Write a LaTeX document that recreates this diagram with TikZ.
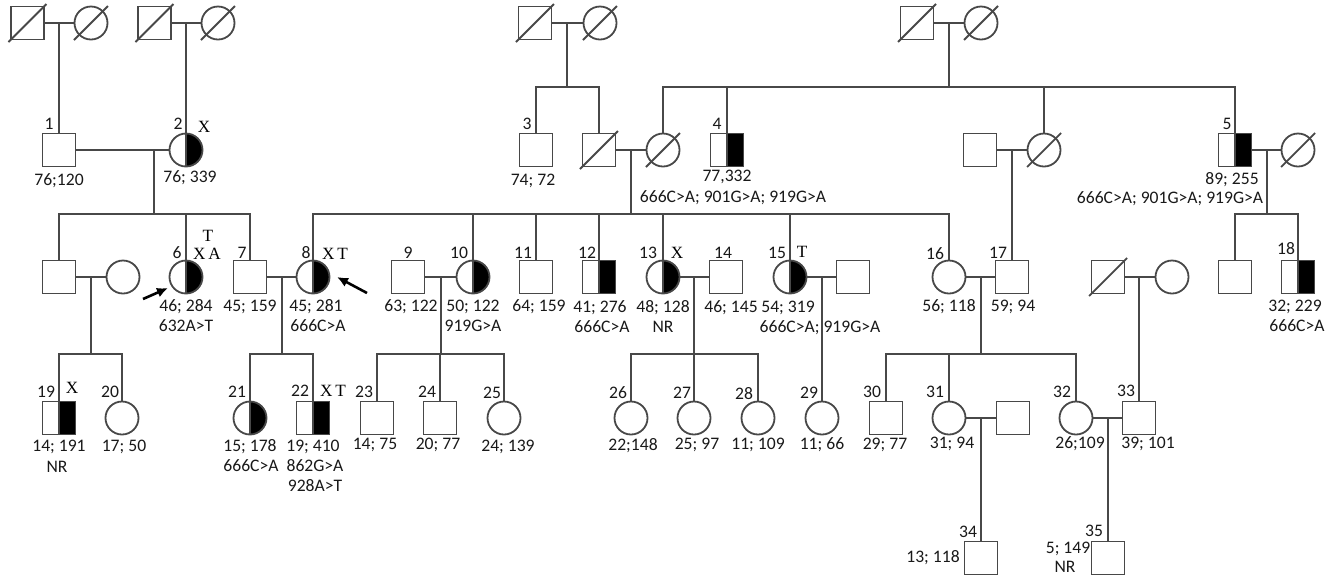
\documentclass[tikz,border=0pt]{standalone}
\usepackage{fontspec}
\setmainfont{Carlito}
\newfontfamily\serifx{Liberation Serif}
\usetikzlibrary{calc,arrows.meta}
\definecolor{lncol}{RGB}{72,72,72}
\definecolor{txcol}{RGB}{25,25,25}
\begin{document}
\begin{tikzpicture}[x=0.5pt,y=-0.5pt,
  sq/.style={draw=lncol,line width=0.9pt,rectangle,minimum size=16.5pt,inner sep=0pt,outer sep=0pt,fill=white},
  ci/.style={draw=lncol,line width=0.9pt,circle,minimum size=16.5pt,inner sep=0pt,outer sep=0pt,fill=white},
  half/.style={path picture={\fill[black] (path picture bounding box.north) rectangle (path picture bounding box.south east);
     \draw[lncol,line width=0.9pt] (path picture bounding box.north) -- (path picture bounding box.south);}},
  link/.style={draw=lncol,line width=0.9pt},
  lb/.style={font=\fontsize{8.8}{10}\selectfont,text=txcol,anchor=base,inner sep=0pt},
  sf/.style={font=\serifx\fontsize{8.6}{10}\selectfont,text=black,anchor=base,inner sep=0pt},
  arr/.style={draw=black,line width=1.3pt,-{Latex[length=5.5pt,width=5pt]}},
]
\fill[white] (0,0) rectangle (1333,575);
\useasboundingbox (0,0) rectangle (1333,575);

% Generation I
\node[sq] (a1) at (27.5,23) {};
\node[ci] (a2) at (91,23) {};
\node[sq] (b1) at (154.5,23) {};
\node[ci] (b2) at (218,23) {};
\node[sq] (c1) at (535,23) {};
\node[ci] (c2) at (600,23) {};
\node[sq] (d1) at (917,23) {};
\node[ci] (d2) at (981,23) {};

% Generation II
\node[sq] (p1) at (59,150) {};
\node[ci,half] (p2) at (186,150) {};
\node[sq] (p3) at (536,150) {};
\node[sq] (q1) at (599,150) {};
\node[ci] (q2) at (663,150) {};
\node[sq,half] (p4) at (727,150) {};
\node[sq] (r1) at (980,150) {};
\node[ci] (r2) at (1044,150) {};
\node[sq,half] (p5) at (1235,150) {};
\node[ci] (t2) at (1298,150) {};

% Generation III
\node[sq] (u1) at (59,277) {};
\node[ci] (u2) at (123,277) {};
\node[ci,half] (p6) at (186,277) {};
\node[sq] (p7) at (250,277) {};
\node[ci,half] (p8) at (313,277) {};
\node[sq] (p9) at (408,277) {};
\node[ci,half] (p10) at (473,277) {};
\node[sq] (p11) at (536,277) {};
\node[sq,half] (p12) at (599,277) {};
\node[ci,half] (p13) at (663,277) {};
\node[sq] (p14) at (726,277) {};
\node[ci,half] (p15) at (790,277) {};
\node[sq] (v1) at (853,277) {};
\node[ci] (p16) at (949,277) {};
\node[sq] (p17) at (1012,277) {};
\node[sq] (w1) at (1108,277) {};
\node[ci] (w2) at (1172,277) {};
\node[sq] (x1) at (1235,277) {};
\node[sq,half] (p18) at (1298,277) {};

% Generation IV
\node[sq,half] (p19) at (59,418) {};
\node[ci] (p20) at (122,418) {};
\node[ci,half] (p21) at (250,418) {};
\node[sq,half] (p22) at (313,418) {};
\node[sq] (p23) at (377,418) {};
\node[sq] (p24) at (440,418) {};
\node[ci] (p25) at (504,418) {};
\node[ci] (p26) at (631,418) {};
\node[ci] (p27) at (694,418) {};
\node[ci] (p28) at (758,418) {};
\node[ci] (p29) at (822,418) {};
\node[sq] (p30) at (886,418) {};
\node[ci] (p31) at (949,418) {};
\node[sq] (y1) at (1013,418) {};
\node[ci] (p32) at (1076,418) {};
\node[sq] (p33) at (1139,418) {};

% Generation V
\node[sq] (p34) at (981,558) {};
\node[sq] (p35) at (1108,558) {};

% deceased marks
\foreach \n in {a1,b1,c1,d1,q1,w1}
  \draw[link] ([shift={(-19,19)}]\n.center) -- ([shift={(19,-19)}]\n.center);
\foreach \n in {a2,b2,c2,d2,q2,r2,t2}
  \draw[link] ([shift={(-17,17)}]\n.center) -- ([shift={(17,-17)}]\n.center);

% junction coordinates
\coordinate (ma) at (59,23);
\coordinate (mb) at (186,23);
\coordinate (mc) at (567,23);
\coordinate (sc) at (567,87);
\coordinate (md) at (949,23);
\coordinate (sd) at (949,87);
\coordinate (m12) at (154,150);
\coordinate (s12) at (154,214);
\coordinate (mq) at (631,150);
\coordinate (sQ) at (631,214);
\coordinate (mr) at (1012,150);
\coordinate (m5) at (1267,150);
\coordinate (s5) at (1267,214);
\coordinate (mu) at (91,277);
\coordinate (su) at (91,354);
\coordinate (m78) at (282,277);
\coordinate (s78) at (282,354);
\coordinate (m910) at (441,277);
\coordinate (s910) at (441,354);
\coordinate (m1314) at (694,277);
\coordinate (s1314) at (694,354);
\coordinate (m15) at (822,277);
\coordinate (m1617) at (981,277);
\coordinate (s1617) at (981,354);
\coordinate (mw) at (1139,277);
\coordinate (m31) at (981,418);
\coordinate (m32) at (1108,418);

% Generation I connectors
\draw[link] (a1) -- (a2);
\draw[link] (b1) -- (b2);
\draw[link] (c1) -- (c2);
\draw[link] (d1) -- (d2);
\draw[link] (ma) -- (p1);
\draw[link] (mb) -- (p2);
\draw[link] (mc) -- (sc);
\draw[link] (p3.north) |- (sc) -| (q1.north);
\draw[link] (md) -- (sd);
\draw[link] (q2.north) |- (sd) -| (p5.north);
\draw[link] (p4.north) -- (p4.north |- sd);
\draw[link] (r2.north) -- (r2.north |- sd);

% Generation II connectors
\draw[link] (p1) -- (p2);
\draw[link] (m12) -- (s12);
\draw[link] (u1.north) |- (s12) -| (p7.north);
\draw[link] (p6.north) -- (p6.north |- s12);
\draw[link] (q1) -- (q2);
\draw[link] (mq) -- (sQ);
\draw[link] (p8.north) |- (sQ) -| (p16.north);
\foreach \n in {p10,p11,p12,p13,p15}
  \draw[link] (\n.north) -- (\n.north |- sQ);
\draw[link] (r1) -- (r2);
\draw[link] (mr) -- (p17);
\draw[link] (p5) -- (t2);
\draw[link] (m5) -- (s5);
\draw[link] (x1.north) |- (s5) -| (p18.north);

% Generation III connectors
\draw[link] (u1) -- (u2);
\draw[link] (mu) -- (su);
\draw[link] (p19.north) |- (su) -| (p20.north);
\draw[link] (p7) -- (p8);
\draw[link] (m78) -- (s78);
\draw[link] (p21.north) |- (s78) -| (p22.north);
\draw[link] (p9) -- (p10);
\draw[link] (m910) -- (s910);
\draw[link] (p23.north) |- (s910) -| (p25.north);
\draw[link] (p24.north) -- (p24.north |- s910);
\draw[link] (p13) -- (p14);
\draw[link] (m1314) -- (s1314);
\draw[link] (p26.north) |- (s1314) -| (p28.north);
\draw[link] (p27.north) -- (p27.north |- s1314);
\draw[link] (p15) -- (v1);
\draw[link] (m15) -- (p29);
\draw[link] (p16) -- (p17);
\draw[link] (m1617) -- (s1617);
\draw[link] (p30.north) |- (s1617) -| (p32.north);
\draw[link] (p31.north) -- (p31.north |- s1617);
\draw[link] (w1) -- (w2);
\draw[link] (mw) -- (p33);

% Generation IV connectors
\draw[link] (p31) -- (y1);
\draw[link] (m31) -- (p34);
\draw[link] (p32) -- (p33);
\draw[link] (m32) -- (p35);

% proband arrows
\coordinate (a6t) at (143,299);
\coordinate (a6h) at (168,288);
\draw[arr] (a6t) -- (a6h);
\coordinate (a8t) at (367,293);
\coordinate (a8h) at (337,277);
\draw[arr] (a8t) -- (a8h);

% Labels generation II
\node[lb] (n1) at (49,129) {1};
\node[lb] (g1) at (59,185) {76;120};
\node[lb] (n2) at (178,129) {2};
\node[sf] (x2) at (204,132) {X};
\node[lb] (g2) at (190,182) {76; 339};
\node[lb] (n3) at (527,129) {3};
\node[lb] (g3) at (533,185) {74; 72};
\node[lb] (n4) at (717,129) {4};
\node[lb] (g4) at (727,181) {77,332};
\node[lb] (h4) at (733,202) {666C>A; 901G>A; 919G>A};
\node[lb] (n5) at (1227,129) {5};
\node[lb] (g5) at (1232,184) {89; 255};
\node[lb] (h5) at (1170,203) {666C>A; 901G>A; 919G>A};

% Labels generation III
\node[lb] (n6) at (177,258) {6};
\node[sf] (t6) at (208,241) {T};
\node[sf] (x6) at (207,259) {X\hspace{1.5pt}A};
\node[lb] (g6) at (186,311) {46; 284};
\node[lb] (h6) at (186,331) {632A>T};
\node[lb] (n7) at (242,258) {7};
\node[lb] (g7) at (250,311) {45; 159};
\node[lb] (n8) at (306,258) {8};
\node[sf] (x8) at (335,259) {X\hspace{1.5pt}T};
\node[lb] (g8) at (316,311) {45; 281};
\node[lb] (h8) at (318,331) {666C>A};
\node[lb] (n9) at (408,258) {9};
\node[lb] (g9) at (411,311) {63; 122};
\node[lb] (n10) at (459,258) {10};
\node[lb] (g10) at (473,311) {50; 122};
\node[lb] (h10) at (473,331) {919G>A};
\node[lb] (n11) at (523,258) {11};
\node[lb] (g11) at (539,311) {64; 159};
\node[lb] (n12) at (587,258) {12};
\node[lb] (g12) at (600,312) {41; 276};
\node[lb] (h12) at (602,332) {666C>A};
\node[lb] (n13) at (648,258) {13};
\node[sf] (x13) at (677,258) {X};
\node[lb] (g13) at (663,312) {48; 128};
\node[lb] (h13) at (663,332) {NR};
\node[lb] (n14) at (723,258) {14};
\node[lb] (g14) at (731,312) {46; 145};
\node[lb] (n15) at (777,258) {15};
\node[sf] (x15) at (802,257) {T};
\node[lb] (g15) at (788,312) {54; 319};
\node[lb] (h15) at (820,332) {666C>A; 919G>A};
\node[lb] (n16) at (935,259) {16};
\node[lb] (g16) at (949,311) {56; 118};
\node[lb] (n17) at (998,258) {17};
\node[lb] (g17) at (1013,311) {59; 94};
\node[lb] (n18) at (1286,254) {18};
\node[lb] (g18) at (1295,311) {32; 229};
\node[lb] (h18) at (1297,331) {666C>A};

% Labels generation IV
\node[lb] (n19) at (46,397) {19};
\node[sf] (x19) at (72,393) {X};
\node[lb] (g19) at (59,451) {14; 191};
\node[lb] (h19) at (57,472) {NR};
\node[lb] (n20) at (110,397) {20};
\node[lb] (g20) at (124,451) {17; 50};
\node[lb] (n21) at (237,397) {21};
\node[lb] (g21) at (250,451) {15; 178};
\node[lb] (h21) at (251,471) {666C>A};
\node[lb] (n22) at (300,396) {22};
\node[sf] (x22) at (333,396) {X\hspace{1.5pt}T};
\node[lb] (g22) at (313,451) {19; 410};
\node[lb] (h22) at (315,471) {862G>A};
\node[lb] (i22) at (315,491) {928A>T};
\node[lb] (n23) at (364,397) {23};
\node[lb] (g23) at (375,449) {14; 75};
\node[lb] (n24) at (427,397) {24};
\node[lb] (g24) at (438,449) {20; 77};
\node[lb] (n25) at (492,398) {25};
\node[lb] (g25) at (508,451) {24; 139};
\node[lb] (n26) at (618,398) {26};
\node[lb] (g26) at (633,450) {22;148};
\node[lb] (n27) at (682,398) {27};
\node[lb] (g27) at (697,449) {25; 97};
\node[lb] (n28) at (744,399) {28};
\node[lb] (g28) at (758,449) {11; 109};
\node[lb] (n29) at (809,398) {29};
\node[lb] (g29) at (822,449) {11; 66};
\node[lb] (n30) at (872,397) {30};
\node[lb] (g30) at (885,449) {29; 77};
\node[lb] (n31) at (935,397) {31};
\node[lb] (g31) at (952,448) {31; 94};
\node[lb] (n32) at (1062,397) {32};
\node[lb] (g32) at (1080,448) {26;109};
\node[lb] (n33) at (1126,396) {33};
\node[lb] (g33) at (1148,448) {39; 101};

% Labels generation V
\node[lb] (n34) at (968,537) {34};
\node[lb] (g34) at (933,562) {13; 118};
\node[lb] (n35) at (1094,536) {35};
\node[lb] (g35) at (1068,553) {5; 149};
\node[lb] (h35) at (1065,572) {NR};
\end{tikzpicture}
\end{document}
